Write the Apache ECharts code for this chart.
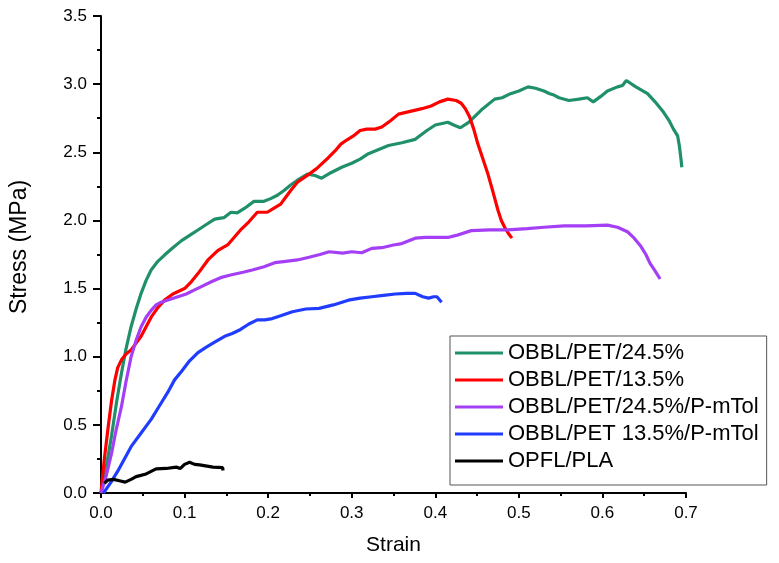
<!DOCTYPE html>
<html>
<head>
<meta charset="utf-8">
<script src="https://cdn.jsdelivr.net/npm/echarts@6/dist/echarts.min.js"></script>
<style>html,body{margin:0;padding:0;background:#fff}#c{width:779px;height:563px}</style>
</head>
<body>
<div id="c"></div>
<script>
const seriesNames = ['OBBL/PET/24.5%', 'OBBL/PET/13.5%', 'OBBL/PET/24.5%/P-mTol', 'OBBL/PET 13.5%/P-mTol', 'OPFL/PLA'];
const xTicks = [0, 0.1, 0.2, 0.3, 0.4, 0.5, 0.6, 0.7];
const yTicks = [0, 0.5, 1.0, 1.5, 2.0, 2.5, 3.0, 3.5];

const obblPet245 = [[0.000,0.00],[0.006,0.18],[0.0126,0.42],[0.019,0.68],[0.0245,0.88],[0.030,1.06],[0.036,1.22],[0.042,1.35],[0.048,1.465],[0.054,1.56],[0.060,1.636],[0.068,1.70],[0.076,1.746],[0.086,1.80],[0.096,1.85],[0.106,1.89],[0.116,1.93],[0.126,1.97],[0.136,2.01],[0.147,2.02],[0.1555,2.06],[0.163,2.056],[0.172,2.09],[0.183,2.14],[0.195,2.14],[0.203,2.16],[0.211,2.185],[0.219,2.22],[0.227,2.26],[0.235,2.295],[0.247,2.34],[0.256,2.33],[0.264,2.31],[0.275,2.35],[0.288,2.39],[0.300,2.42],[0.310,2.45],[0.320,2.49],[0.336,2.53],[0.344,2.55],[0.360,2.57],[0.376,2.595],[0.390,2.66],[0.400,2.70],[0.415,2.72],[0.422,2.70],[0.430,2.68],[0.440,2.72],[0.455,2.81],[0.471,2.89],[0.480,2.90],[0.490,2.93],[0.500,2.95],[0.511,2.98],[0.520,2.97],[0.530,2.95],[0.537,2.93],[0.542,2.92],[0.548,2.90],[0.560,2.88],[0.572,2.89],[0.582,2.90],[0.589,2.87],[0.598,2.91],[0.606,2.95],[0.618,2.98],[0.624,2.99],[0.6286,3.027],[0.640,2.98],[0.654,2.93],[0.663,2.87],[0.673,2.795],[0.680,2.73],[0.685,2.67],[0.690,2.62],[0.692,2.55],[0.694,2.45],[0.695,2.39]];

const obblPet135 = [[0,0],[0.004,0.25],[0.0087,0.49],[0.0127,0.68],[0.0167,0.83],[0.020,0.92],[0.0245,0.977],[0.030,1.02],[0.036,1.05],[0.042,1.10],[0.048,1.15],[0.054,1.22],[0.060,1.29],[0.068,1.36],[0.076,1.415],[0.086,1.46],[0.100,1.50],[0.108,1.55],[0.116,1.61],[0.128,1.71],[0.140,1.78],[0.1515,1.82],[0.160,1.88],[0.167,1.93],[0.177,1.99],[0.187,2.06],[0.199,2.06],[0.207,2.09],[0.215,2.12],[0.221,2.17],[0.227,2.22],[0.235,2.28],[0.249,2.34],[0.258,2.38],[0.265,2.42],[0.272,2.46],[0.280,2.51],[0.287,2.56],[0.294,2.59],[0.302,2.62],[0.310,2.66],[0.318,2.67],[0.328,2.67],[0.336,2.685],[0.346,2.73],[0.356,2.78],[0.370,2.80],[0.384,2.82],[0.395,2.84],[0.405,2.87],[0.415,2.89],[0.425,2.88],[0.431,2.86],[0.436,2.82],[0.441,2.76],[0.446,2.67],[0.451,2.56],[0.457,2.45],[0.463,2.34],[0.469,2.21],[0.475,2.075],[0.479,2.00],[0.483,1.95],[0.488,1.90],[0.4917,1.87]];

const obblPet245Ptol = [[0,0],[0.006,0.12],[0.0126,0.29],[0.018,0.46],[0.0245,0.635],[0.030,0.82],[0.036,1.0],[0.042,1.12],[0.048,1.22],[0.054,1.29],[0.060,1.34],[0.066,1.38],[0.072,1.40],[0.082,1.42],[0.092,1.44],[0.102,1.46],[0.112,1.49],[0.122,1.52],[0.132,1.55],[0.143,1.58],[0.155,1.60],[0.170,1.62],[0.181,1.636],[0.195,1.66],[0.208,1.69],[0.221,1.70],[0.235,1.71],[0.249,1.73],[0.262,1.75],[0.273,1.77],[0.289,1.76],[0.300,1.77],[0.312,1.763],[0.324,1.795],[0.336,1.80],[0.350,1.82],[0.360,1.83],[0.376,1.87],[0.388,1.875],[0.400,1.875],[0.415,1.875],[0.425,1.89],[0.443,1.925],[0.465,1.93],[0.487,1.93],[0.510,1.94],[0.530,1.95],[0.554,1.96],[0.580,1.96],[0.606,1.966],[0.618,1.95],[0.630,1.917],[0.638,1.87],[0.646,1.81],[0.652,1.75],[0.657,1.685],[0.663,1.63],[0.669,1.57]];

const obblPet135Ptol = [[0.003,0],[0.012,0.08],[0.020,0.16],[0.028,0.25],[0.036,0.34],[0.048,0.44],[0.060,0.54],[0.070,0.64],[0.080,0.74],[0.088,0.83],[0.096,0.89],[0.106,0.97],[0.116,1.03],[0.126,1.07],[0.137,1.11],[0.148,1.15],[0.157,1.17],[0.167,1.20],[0.177,1.24],[0.187,1.27],[0.196,1.27],[0.205,1.28],[0.215,1.30],[0.229,1.33],[0.245,1.35],[0.261,1.355],[0.278,1.38],[0.296,1.415],[0.310,1.43],[0.324,1.44],[0.338,1.45],[0.352,1.46],[0.366,1.465],[0.376,1.465],[0.385,1.44],[0.392,1.43],[0.398,1.44],[0.402,1.44],[0.4075,1.40]];

const opflPla = [[0.004,0.07],[0.008,0.095],[0.015,0.10],[0.022,0.09],[0.029,0.08],[0.036,0.10],[0.042,0.12],[0.054,0.14],[0.066,0.177],[0.078,0.18],[0.090,0.19],[0.095,0.18],[0.100,0.21],[0.106,0.225],[0.112,0.21],[0.118,0.206],[0.134,0.19],[0.1456,0.186],[0.146,0.165]];

const seriesData = [obblPet245, obblPet135, obblPet245Ptol, obblPet135Ptol, opflPla];
const colors = ['#1f9069', '#ff0000', '#a43ff5', '#1f3cff', '#000000'];

const FONT = 'Liberation Sans, Arial, sans-serif';
const chart = echarts.init(document.getElementById('c'), null, {renderer: 'canvas'});

const axisCommon = {
  axisLine: {show: true, onZero: false, lineStyle: {color: '#000', width: 2}},
  splitLine: {show: false},
  axisLabel: {color: '#000', fontSize: 17, fontFamily: FONT, formatter: v => v.toFixed(1)},
  nameTextStyle: {color: '#000', fontSize: 21, fontFamily: FONT}
};

chart.setOption({
  animation: false,
  backgroundColor: '#fff',
  color: colors,
  grid: {left: 98, right: 93, top: 16, bottom: 70, containLabel: false},
  xAxis: Object.assign({}, axisCommon, {
    type: 'value', min: xTicks[0], max: xTicks[xTicks.length - 1], interval: 0.1,
    name: 'Strain', nameLocation: 'middle', nameGap: 42,
    axisTick: {show: true, inside: false, length: 5, lineStyle: {color: '#000', width: 2}},
    minorTick: {show: true, splitNumber: 2, length: 3, lineStyle: {color: '#000', width: 2}},
    axisLabel: Object.assign({}, axisCommon.axisLabel, {margin: 12})
  }),
  yAxis: Object.assign({}, axisCommon, {
    type: 'value', min: yTicks[0], max: yTicks[yTicks.length - 1], interval: 0.5,
    name: 'Stress (MPa)', nameLocation: 'middle', nameGap: 70,
    nameTextStyle: Object.assign({}, axisCommon.nameTextStyle, {fontSize: 23, padding: [0, 0, 0, 15]}),
    axisTick: {show: true, inside: false, length: 8, lineStyle: {color: '#000', width: 2}},
    minorTick: {show: true, splitNumber: 2, length: 4, lineStyle: {color: '#000', width: 2}},
    axisLabel: Object.assign({}, axisCommon.axisLabel, {margin: 14})
  }),
  legend: {
    orient: 'vertical', left: 450, top: 336,
    data: seriesNames,
    icon: 'rect', itemWidth: 48, itemHeight: 3, itemGap: 5,
    padding: [6, 8, 13, 5],
    backgroundColor: '#fff', borderColor: '#555', borderWidth: 1,
    textStyle: {color: '#000', fontSize: 22, fontFamily: FONT}
  },
  series: seriesNames.map((n, i) => ({
    name: n, type: 'line', data: seriesData[i], showSymbol: false, symbol: 'none',
    lineStyle: {width: 3.2, color: colors[i]}, itemStyle: {color: colors[i]},
    smooth: false, z: 2 + i
  }))
});
</script>
</body>
</html>
